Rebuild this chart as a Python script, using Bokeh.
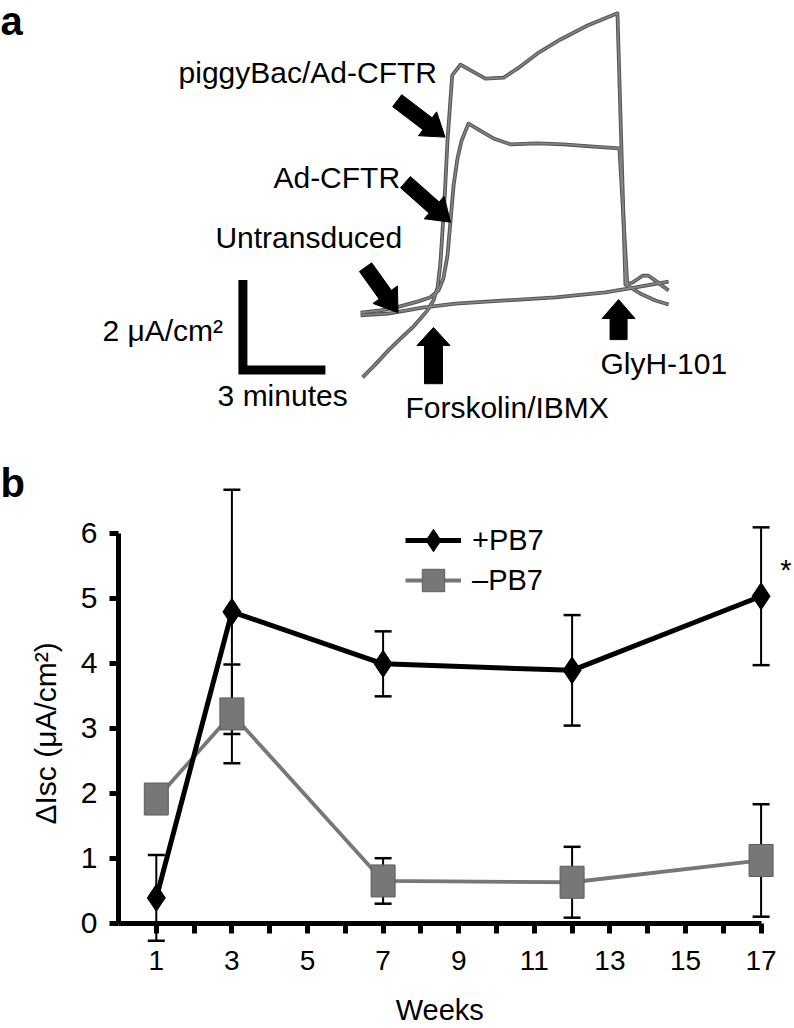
import math
from bokeh.plotting import figure
from bokeh.models import (Range1d, Label, Whisker, TeeHead, ColumnDataSource,
                          FixedTicker, Legend, LegendItem)
from bokeh.layouts import column
from bokeh.embed import file_html
from bokeh.resources import INLINE

FONT = "Liberation Sans"

# ---------------- Panel a: Isc traces (time in minutes, current in uA/cm2) -------------
piggy_t = [-2.58, -2.11, -1.64, -1.20, -0.76, -0.47, -0.22, 0.00, 0.15, 0.25, 0.40, 0.51,
           0.68, 0.98, 1.89, 2.55, 3.05, 3.78, 4.62, 5.60, 6.69, 6.98, 7.24, 7.60, 7.82,
           8.07, 8.55]
piggy_i = [-1.42, -1.13, -0.82, -0.56, -0.31, -0.11, 0.07, 0.29, 0.58, 1.11, 2.51, 3.84,
           5.29, 5.53, 5.22, 5.24, 5.44, 5.78, 6.09, 6.40, 6.67, 0.64, 0.69, 0.84, 0.84,
           0.73, 0.51]

adcftr_t = [-2.65, -1.93, -1.38, -0.55, -0.11, 0.18, 0.36, 0.51, 0.62, 0.73, 0.87, 1.02,
            1.27, 2.18, 2.80, 3.78, 4.73, 5.82, 6.76, 7.05, 7.53, 8.07, 8.55]
adcftr_i = [0.02, 0.07, 0.13, 0.27, 0.36, 0.51, 0.78, 1.29, 2.07, 2.84, 3.44, 3.84,
            4.22, 3.89, 3.76, 3.78, 3.76, 3.71, 3.67, 0.62, 0.44, 0.29, 0.20]

untr_t = [-2.65, -1.64, -0.40, 0.80, 2.62, 4.44, 6.25, 7.35, 8.55]
untr_i = [-0.04, 0.00, 0.13, 0.22, 0.29, 0.36, 0.47, 0.58, 0.71]

trace_labels = ["piggyBac/Ad-CFTR", "Ad-CFTR", "Untransduced"]
scale_current = 2   # uA/cm2
scale_time = 3      # minutes

# ---------------- Panel b: dIsc over weeks --------------------------------------------
weeks = [1, 3, 7, 12, 17]
plus_mean = [0.39, 4.79, 3.99, 3.89, 5.03]
plus_err = [0.66, 1.88, 0.50, 0.85, 1.06]
minus_mean = [1.91, 3.22, 0.65, 0.63, 0.965]
minus_err = [0.15, 0.76, 0.35, 0.545, 0.865]
series_labels = ["+PB7", "\u2013PB7"]
x_major_ticks = [1, 3, 5, 7, 9, 11, 13, 15, 17]
x_minor_ticks = [2, 4, 6, 8, 10, 12, 14, 16]
y_ticks = [0, 1, 2, 3, 4, 5, 6]

W = 794
HA = 458
HB = 570
PX_MIN = 27.5
PX_UA = 45.0
TRACE_EDGE = "#555555"
TRACE_CORE = "#858585"
GRAY = "#777777"
GRAY_EDGE = "#5c5c5c"

# ---------------- Panel a figure -------------------------------------------------------
xa0, ya0 = -15.745, -3.222
pa = figure(width=W, height=HA, x_range=Range1d(xa0, xa0 + W / PX_MIN),
            y_range=Range1d(ya0, ya0 + HA / PX_UA), output_backend="svg",
            toolbar_location=None, x_axis_type=None, y_axis_type=None,
            min_border=0, outline_line_color=None)

traces = [(untr_t, untr_i), (adcftr_t, adcftr_i), (piggy_t, piggy_i)]
for t, i in traces:
    pa.line(t, i, line_width=3.8, line_color=TRACE_EDGE, line_join="round")
for t, i in traces:
    pa.line(t, i, line_width=1.6, line_color=TRACE_CORE, line_join="round")

# scale bar
sb_t0, sb_i0 = -6.93, -1.256
pa.line([sb_t0, sb_t0, sb_t0 + scale_time], [sb_i0 + scale_current, sb_i0, sb_i0],
        line_width=9, line_color="black", line_join="miter")


def block_arrow(tail, tip, shaft_px, head_w_px, head_l_px):
    x0, y0 = tail[0] * PX_MIN, tail[1] * PX_UA
    x1, y1 = tip[0] * PX_MIN, tip[1] * PX_UA
    L = math.hypot(x1 - x0, y1 - y0)
    ux, uy = (x1 - x0) / L, (y1 - y0) / L
    nx, ny = -uy, ux
    bx, by = x1 - ux * head_l_px, y1 - uy * head_l_px
    s, h = shaft_px / 2, head_w_px / 2
    pts = [(x0 + nx * s, y0 + ny * s), (bx + nx * s, by + ny * s), (bx + nx * h, by + ny * h),
           (x1, y1), (bx - nx * h, by - ny * h), (bx - nx * s, by - ny * s),
           (x0 - nx * s, y0 - ny * s)]
    return [p[0] / PX_MIN for p in pts], [p[1] / PX_UA for p in pts]


arrows = [
    ((-1.32, 4.73), (0.42, 3.92), 15, 30, 22),
    ((-1.02, 2.92), (0.62, 2.03), 15, 30, 22),
    ((-2.47, 1.03), (-1.29, 0.02), 15, 30, 22),
    ((0.0, -1.56), (0.0, -0.31), 18, 33, 18),
    ((6.73, -0.58), (6.73, 0.31), 17, 33, 19),
]
axs, ays = [], []
for tail, tip, sw, hw, hl in arrows:
    xs, ys = block_arrow(tail, tip, sw, hw, hl)
    axs.append(xs)
    ays.append(ys)
pa.patches(axs, ays, fill_color="black", line_color="black", line_width=1)

texts_a = [
    (trace_labels[0], -9.27, 5.35),
    (trace_labels[1], -5.82, 3.02),
    (trace_labels[2], -7.93, 1.69),
    ("2 \u03bcA/cm\u00b2", -12.04, -0.38),
    ("3 minutes", -7.85, -1.82),
    ("Forskolin/IBMX", -1.02, -2.08),
    ("GlyH-101", 6.07, -1.12),
]
for txt, x, y in texts_a:
    pa.add_layout(Label(x=x, y=y, text=txt, text_font=FONT, text_font_size="30px",
                        text_color="black", text_align="left", text_baseline="alphabetic"))
pa.add_layout(Label(x=xa0, y=6.51, text="a", text_font=FONT, text_font_size="40px",
                    text_font_style="bold", text_color="black", text_align="left",
                    text_baseline="alphabetic"))

# ---------------- Panel b figure -------------------------------------------------------
pb = figure(width=W, height=HB, x_range=Range1d(-3.122, 17.884),
            y_range=Range1d(-1.620, 7.149), output_backend="svg",
            toolbar_location=None, min_border=0, outline_line_color=None)
pb.grid.visible = False
xax = pb.xaxis[0]
yax = pb.yaxis[0]
xax.fixed_location = 0
yax.fixed_location = 0
xax.bounds = (0, 17)
yax.bounds = (0, 6)
xax.ticker = FixedTicker(ticks=x_major_ticks, minor_ticks=x_minor_ticks)
yax.ticker = FixedTicker(ticks=y_ticks)
for ax in (xax, yax):
    ax.axis_line_width = 5
    ax.axis_line_color = "black"
    ax.major_tick_line_width = 5
    ax.major_tick_line_color = "black"
    ax.major_tick_in = 0
    ax.major_label_text_font = FONT
    ax.major_label_text_color = "black"
xax.major_tick_out = 10
xax.minor_tick_out = 10
xax.minor_tick_in = 0
xax.minor_tick_line_width = 5
xax.minor_tick_line_color = "black"
xax.major_label_text_font_size = "28px"
xax.major_label_standoff = 18
yax.major_tick_out = 9
yax.minor_tick_line_color = None
yax.major_label_text_font_size = "30px"
yax.major_label_standoff = 12

src_minus = ColumnDataSource(dict(x=weeks, y=minus_mean,
                                  upper=[m + e for m, e in zip(minus_mean, minus_err)],
                                  lower=[m - e for m, e in zip(minus_mean, minus_err)]))
src_plus = ColumnDataSource(dict(x=weeks, y=plus_mean,
                                 upper=[m + e for m, e in zip(plus_mean, plus_err)],
                                 lower=[m - e for m, e in zip(plus_mean, plus_err)]))
for src in (src_minus, src_plus):
    pb.add_layout(Whisker(source=src, base="x", upper="upper", lower="lower",
                          line_width=2, line_color="black",
                          upper_head=TeeHead(size=17, line_width=2.5, line_color="black"),
                          lower_head=TeeHead(size=17, line_width=2.5, line_color="black")))

gl = pb.line("x", "y", source=src_minus, line_width=3.8, line_color=GRAY)
# square markers (used by the legend) hidden beneath the taller rectangles
gsq = pb.scatter("x", "y", source=src_minus, marker="square", size=22,
                 fill_color=GRAY, line_color=GRAY_EDGE)
pb.rect("x", "y", source=src_minus, width=24, height=32, width_units="screen",
        height_units="screen", fill_color=GRAY, line_color=GRAY_EDGE, line_width=1)
bl = pb.line("x", "y", source=src_plus, line_width=5, line_color="black")
bd = pb.scatter("x", "y", source=src_plus, marker="diamond", size=27,
                fill_color="black", line_color="black")

legend_rows = [(series_labels[0], [bl, bd], 458), (series_labels[1], [gl, gsq], 418)]
for lab, rends, vy in legend_rows:
    pb.add_layout(Legend(items=[LegendItem(label=lab, renderers=rends)],
                         location=(405, vy), glyph_width=56, glyph_height=60,
                         padding=0, margin=0, label_standoff=11, label_text_font=FONT,
                         label_text_font_size="29px", label_text_color="black",
                         border_line_alpha=0, background_fill_alpha=0))

pb.add_layout(Label(x=-1.93, y=2.92, text="\u0394Isc (\u03bcA/cm\u00b2)", angle=math.pi / 2,
                    text_font=FONT, text_font_size="30px", text_color="black",
                    text_align="center", text_baseline="middle"))
pb.add_layout(Label(x=8.5, y=-1.34, text="Weeks", text_font=FONT, text_font_size="29px",
                    text_color="black", text_align="center", text_baseline="alphabetic"))
pb.add_layout(Label(x=17.51, y=5.43, text="*", text_font=FONT, text_font_size="29px",
                    text_color="black", text_align="left", text_baseline="alphabetic"))
pb.add_layout(Label(x=-3.122, y=6.77, text="b", text_font=FONT, text_font_size="40px",
                    text_font_style="bold", text_color="black", text_align="left",
                    text_baseline="alphabetic"))

layout = column(pa, pb, spacing=0)
open("out.html", "w").write(file_html(layout, INLINE))
